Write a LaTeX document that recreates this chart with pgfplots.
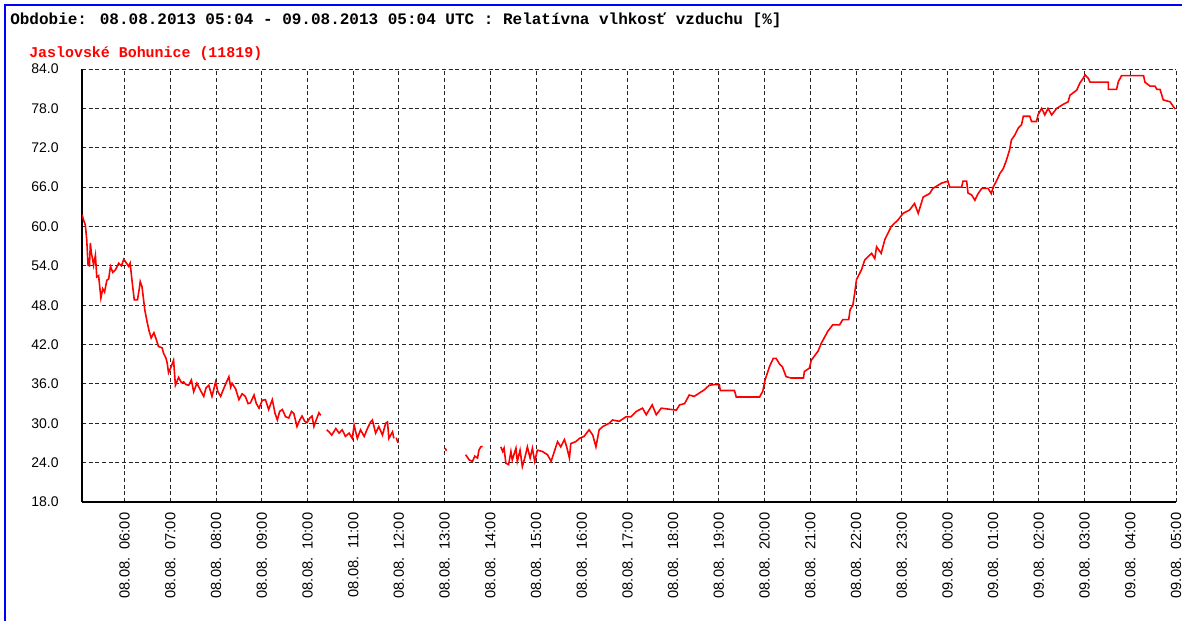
\documentclass[border=0pt]{standalone}
\usepackage{fontspec}
\setmainfont{Liberation Sans}
\newfontfamily\monob{Liberation Mono}
\usepackage{pgfplots}
\pgfplotsset{compat=1.18}

% relative humidity, time in hours from 08.08. 00:00, nan = gap in the record
\pgfplotstableread{
t v
5.07 61.8
5.10 61.0
5.14 60.2
5.17 58.0
5.20 54.1
5.23 54.0
5.25 57.5
5.27 56.0
5.30 55.0
5.32 54.1
5.36 55.6
5.39 52.3
5.43 52.5
5.48 49.1
5.52 50.5
5.56 50.0
5.61 51.8
5.65 52.0
5.69 53.9
5.74 53.0
5.80 53.4
5.87 54.4
5.93 54.0
5.98 55.0
6.03 54.5
6.09 53.9
6.12 54.4
6.16 51.8
6.21 48.8
6.28 48.8
6.32 50.5
6.34 51.6
6.38 50.8
6.44 47.3
6.49 45.5
6.53 44.2
6.58 43.0
6.64 43.8
6.69 42.8
6.74 41.7
6.82 41.5
6.85 40.7
6.90 40.0
6.93 39.2
6.96 37.7
7.01 38.5
7.07 39.6
7.11 35.8
7.18 37.0
7.24 36.2
7.29 36.3
7.34 35.9
7.40 35.8
7.46 36.6
7.51 34.8
7.58 36.1
7.66 35.0
7.73 34.1
7.78 35.4
7.84 35.8
7.91 34.1
7.99 36.3
8.04 34.8
8.10 34.1
8.15 35.0
8.21 36.0
8.28 37.1
8.32 35.5
8.35 36.1
8.43 35.2
8.50 33.6
8.57 34.5
8.64 34.1
8.70 33.0
8.75 33.1
8.83 34.3
8.88 33.0
8.94 32.3
9.01 33.5
9.08 33.6
9.15 32.1
9.23 33.6
9.29 31.5
9.34 30.5
9.39 31.8
9.45 32.1
9.52 31.0
9.59 30.8
9.65 31.8
9.70 31.5
9.77 29.5
9.83 30.5
9.88 31.1
9.94 30.3
9.99 30.1
10.05 30.8
10.10 31.1
10.14 29.5
10.19 30.5
10.25 31.6
10.29 31.2
nan nan
10.42 29.0
10.47 28.7
10.53 28.2
10.62 29.2
10.69 28.5
10.76 29.0
10.83 28.0
10.91 28.5
10.98 27.7
11.02 29.7
11.09 27.7
11.16 29.0
11.24 28.0
11.31 29.2
11.38 30.2
11.42 30.5
11.49 28.5
11.56 29.5
11.64 28.2
11.71 30.0
11.75 30.2
11.78 27.7
11.86 28.7
11.89 27.7
nan nan
11.94 27.8
11.98 27.0
nan nan
13.01 26.2
13.04 25.8
nan nan
13.46 25.2
13.54 24.4
13.61 24.2
13.66 25.0
13.72 24.7
13.75 25.9
13.79 26.4
13.83 26.5
nan nan
14.23 26.4
14.27 25.7
14.30 26.2
14.34 23.9
14.40 23.7
14.45 25.7
14.48 24.4
14.56 26.2
14.59 24.2
14.65 25.9
14.70 23.4
14.76 24.9
14.81 26.4
14.87 24.7
14.92 26.2
14.97 24.2
15.03 25.9
15.14 25.7
15.25 25.2
15.33 24.2
15.40 25.7
15.47 27.2
15.54 26.4
15.62 27.5
15.67 26.4
15.73 24.7
15.76 26.9
15.87 27.2
15.95 27.7
16.05 28.0
16.16 29.0
16.24 28.2
16.31 26.4
16.38 29.0
16.46 29.5
16.60 30.0
16.67 30.5
16.82 30.3
16.97 31.0
17.08 31.0
17.19 31.8
17.33 32.3
17.41 31.3
17.54 32.8
17.63 31.3
17.74 32.3
18.07 32.0
18.14 32.8
18.25 33.0
18.35 34.3
18.46 34.1
18.68 35.1
18.79 35.8
18.90 35.9
19.01 35.9
19.03 35.0
19.34 35.0
19.38 34.0
19.89 34.0
19.96 34.9
20.01 36.6
20.11 38.7
20.19 39.9
20.25 39.9
20.33 39.0
20.39 38.6
20.47 37.1
20.58 36.9
20.85 36.9
20.87 37.9
20.98 38.4
21.02 39.6
21.17 41.0
21.24 42.2
21.38 44.0
21.49 45.0
21.64 45.0
21.71 45.8
21.84 45.8
21.87 47.3
21.93 48.0
21.97 49.8
22.01 51.9
22.12 53.4
22.19 54.9
22.34 55.9
22.41 55.1
22.45 56.9
22.55 55.9
22.63 58.0
22.77 60.0
22.92 61.0
23.03 62.0
23.17 62.5
23.28 63.5
23.36 62.0
23.47 64.5
23.61 65.0
23.68 65.8
23.87 66.6
24.01 66.9
24.05 66.0
24.31 66.0
24.34 66.9
24.42 66.9
24.45 65.1
24.53 64.8
24.60 64.0
24.67 65.0
24.75 65.8
24.89 65.8
24.96 65.0
25.00 66.0
25.07 66.9
25.15 68.1
25.22 68.8
25.29 70.1
25.36 71.7
25.40 73.2
25.47 73.9
25.55 75.0
25.62 75.5
25.66 76.8
25.80 76.8
25.84 76.0
25.95 76.0
25.98 77.0
26.06 78.0
26.13 77.0
26.20 78.0
26.28 77.0
26.39 78.0
26.53 78.6
26.64 79.0
26.68 80.0
26.83 80.8
26.90 81.9
26.97 82.6
27.01 83.1
27.08 82.6
27.12 82.0
27.52 82.0
27.52 80.9
27.70 80.9
27.74 82.1
27.81 83.0
28.29 83.0
28.32 82.0
28.43 81.4
28.54 81.4
28.58 80.9
28.65 80.9
28.72 79.3
28.87 79.0
28.98 77.9
}\humidity

\begin{document}
\begin{tikzpicture}[x=0.75pt,y=0.75pt]
\useasboundingbox (0,0) rectangle (1182,621);
\draw[blue, line width=1.5pt] (5,0) -- (5,616) -- (1182,616);
\node[anchor=base west, inner sep=0pt, font=\monob\bfseries\fontsize{12}{13}\selectfont]
  at (10,596) {Obdobie: 08.08.2013 05:04 - 09.08.2013 05:04 UTC : Relatívna vlhkosť vzduchu [\%]};
\node[anchor=base west, inner sep=0pt, text=red, font=\monob\bfseries\fontsize{11.2}{12}\selectfont]
  at (29,563) {Jaslovské Bohunice (11819)};

\begin{axis}[
    at={(61.5pt,89.25pt)}, anchor=south west,
    scale only axis,
    width=820.5pt, height=324.75pt,
    xmin=5.0667, xmax=29, ymin=18, ymax=84,
    xtick={6,...,29},
    xticklabels={08.08.~~06:00,08.08.~~07:00,08.08.~~08:00,08.08.~~09:00,08.08.~~10:00,08.08.~~11:00,08.08.~~12:00,08.08.~~13:00,08.08.~~14:00,08.08.~~15:00,08.08.~~16:00,08.08.~~17:00,08.08.~~18:00,08.08.~~19:00,08.08.~~20:00,08.08.~~21:00,08.08.~~22:00,08.08.~~23:00,09.08.~~00:00,09.08.~~01:00,09.08.~~02:00,09.08.~~03:00,09.08.~~04:00,09.08.~~05:00},
    ytick={18,24,...,84},
    yticklabel={\pgfmathprintnumber[fixed,fixed zerofill,precision=1]{\tick}},
    /pgf/number format/assume math mode=true,
    x tick label style={rotate=90, anchor=east, font=\fontsize{11}{12}\selectfont},
    y tick label style={anchor=east, font=\fontsize{10.5}{12}\selectfont},
    xticklabel shift=4.5pt,
    yticklabel shift=14pt,
    major tick length=0pt,
    axis x line*=bottom, axis y line*=left,
    axis line style={black, line width=1pt},
    grid=major,
    major grid style={black!85, line width=0.75pt, dash pattern=on 3pt off 2pt},
    unbounded coords=jump,
]
\addplot[red, line width=1.2pt, mark=none] table[x=t, y=v] {\humidity};
\end{axis}
\end{tikzpicture}
\end{document}
